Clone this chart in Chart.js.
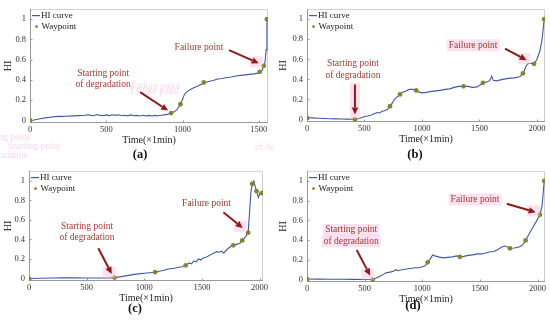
<!DOCTYPE html>
<html>
<head>
<meta charset="utf-8">
<script src="https://cdn.jsdelivr.net/npm/chart.js@4.4.1/dist/chart.umd.min.js"></script>
<style>
  body { margin: 0; background: #fff; }
  #wrap { position: relative; width: 550px; height: 325px; overflow: hidden; background: #fff; }
  canvas { position: absolute; }
</style>
</head>
<body>
<div id="wrap">
  <canvas id="chartA" width="275" height="162" style="left:0;top:0"></canvas>
  <canvas id="chartB" width="275" height="162" style="left:275px;top:0"></canvas>
  <canvas id="chartC" width="275" height="163" style="left:0;top:162px"></canvas>
  <canvas id="chartD" width="275" height="163" style="left:275px;top:162px"></canvas>
</div>
<script>
// ---- data ----
const aTime = [0, 25, 50, 75, 100, 130, 160, 200, 240, 280, 320, 360, 380, 400, 420, 440, 460, 480, 500, 520,
  540, 560, 580, 600, 620, 640, 660, 680, 700, 720, 740, 760, 780, 800, 820, 840, 860, 880, 900, 925,
  945, 965, 986, 1000, 1010, 1025, 1045, 1070, 1100, 1140, 1170, 1200, 1230, 1260, 1290, 1320, 1350,
  1380, 1410, 1440, 1470, 1500, 1506, 1520, 1532, 1540, 1548, 1553];
const aHI = [0, 0.005, 0.012, 0.02, 0.026, 0.032, 0.038, 0.04, 0.042, 0.045, 0.048, 0.052, 0.056, 0.05, 0.047,
  0.058, 0.05, 0.046, 0.055, 0.048, 0.056, 0.05, 0.057, 0.047, 0.052, 0.046, 0.055, 0.047, 0.05, 0.044,
  0.052, 0.045, 0.05, 0.044, 0.05, 0.046, 0.052, 0.055, 0.06, 0.073, 0.085, 0.11, 0.16, 0.21, 0.25, 0.28,
  0.3, 0.32, 0.34, 0.37, 0.385, 0.395, 0.41, 0.415, 0.425, 0.43, 0.44, 0.445, 0.45, 0.455, 0.46, 0.47,
  0.48, 0.49, 0.54, 0.57, 0.7, 1.0];
const aWayTime = [0, 925, 986, 1139, 1506, 1532, 1553];
const aWayHI = [0, 0.073, 0.16, 0.375, 0.48, 0.54, 1.0];

const bTime = [0, 50, 100, 150, 200, 250, 300, 350, 400, 417, 450, 480, 500, 530, 560, 590, 610, 630, 650, 680,
  700, 722, 740, 760, 780, 809, 830, 860, 890, 920, 948, 970, 1000, 1040, 1080, 1120, 1160, 1200, 1240,
  1280, 1320, 1365, 1400, 1440, 1480, 1533, 1570, 1590, 1606, 1620, 1650, 1700, 1750, 1800, 1850, 1881,
  1900, 1920, 1950, 1977, 2000, 2025, 2045, 2063];
const bHI = [0.02, 0.016, 0.013, 0.01, 0.008, 0.006, 0.005, 0.004, 0.003, 0, 0.01, 0.02, 0.03, 0.035, 0.045,
  0.06, 0.07, 0.065, 0.08, 0.09, 0.1, 0.133, 0.16, 0.2, 0.22, 0.25, 0.27, 0.285, 0.3, 0.3, 0.29, 0.275,
  0.265, 0.27, 0.28, 0.285, 0.29, 0.3, 0.305, 0.32, 0.33, 0.33, 0.33, 0.32, 0.325, 0.365, 0.375, 0.39,
  0.43, 0.39, 0.385, 0.4, 0.41, 0.415, 0.425, 0.46, 0.52, 0.555, 0.56, 0.555, 0.6, 0.68, 0.8, 1.0];
const bWayTime = [0, 417, 722, 809, 950, 1362, 1530, 1878, 1975, 2063];
const bWayHI = [0.016, 0, 0.133, 0.25, 0.29, 0.33, 0.365, 0.46, 0.555, 1.0];

const cTime = [0, 100, 200, 300, 400, 500, 600, 700, 742, 800, 850, 900, 950, 1000, 1050, 1094, 1130, 1170,
  1200, 1230, 1260, 1300, 1330, 1360, 1390, 1410, 1430, 1450, 1470, 1490, 1510, 1540, 1570, 1600, 1630,
  1650, 1670, 1690, 1710, 1740, 1772, 1800, 1830, 1850, 1880, 1901, 1912, 1925, 1936, 1950, 1965, 1974,
  1990, 2005, 2020];
const cHI = [0, 0.003, 0.005, 0.008, 0.007, 0.005, 0.006, 0.007, 0.01, 0.02, 0.03, 0.04, 0.048, 0.055, 0.06,
  0.065, 0.075, 0.085, 0.095, 0.1, 0.105, 0.115, 0.12, 0.135, 0.16, 0.15, 0.18, 0.17, 0.2, 0.19, 0.21,
  0.22, 0.24, 0.26, 0.275, 0.27, 0.28, 0.26, 0.29, 0.32, 0.34, 0.35, 0.36, 0.39, 0.43, 0.47, 0.65, 0.88,
  0.97, 1.0, 0.93, 0.895, 0.83, 0.88, 0.875];
const cWayTime = [0, 742, 1094, 1360, 1772, 1850, 1901, 1936, 1974, 2020];
const cWayHI = [0, 0.01, 0.065, 0.135, 0.34, 0.39, 0.47, 0.97, 0.895, 0.875];

const dTime = [0, 100, 200, 300, 400, 500, 570, 600, 630, 660, 690, 720, 750, 770, 790, 820, 850, 880, 910,
  940, 970, 1000, 1025, 1047, 1070, 1090, 1110, 1140, 1180, 1220, 1260, 1300, 1327, 1360, 1400, 1440,
  1480, 1520, 1550, 1580, 1620, 1650, 1690, 1720, 1761, 1800, 1840, 1870, 1897, 1930, 1960, 1990, 2021,
  2040, 2058];
const dHI = [0.005, 0.004, 0.003, 0.003, 0.002, 0.001, 0, 0.015, 0.03, 0.05, 0.07, 0.075, 0.085, 0.1, 0.09,
  0.1, 0.105, 0.11, 0.115, 0.12, 0.12, 0.13, 0.14, 0.175, 0.21, 0.25, 0.24, 0.23, 0.22, 0.225, 0.23, 0.24,
  0.23, 0.235, 0.245, 0.25, 0.26, 0.26, 0.27, 0.28, 0.285, 0.3, 0.33, 0.34, 0.317, 0.32, 0.33, 0.35,
  0.397, 0.47, 0.53, 0.59, 0.657, 0.75, 1.0];
const dWayTime = [0, 570, 1047, 1327, 1761, 1897, 2021, 2058];
const dWayHI = [0.005, 0, 0.175, 0.23, 0.317, 0.397, 0.657, 1.0];

const yTicks = [0, 0.2, 0.4, 0.6, 0.8, 1];
const aXTicks = [0, 500, 1000, 1500];
const bXTicks = [0, 500, 1000, 1500, 2000];
const cXTicks = [0, 500, 1000, 1500, 2000];
const dXTicks = [0, 500, 1000, 1500, 2000];

// ---- styles ----
const SERIF = "'Liberation Serif', 'Times New Roman', serif";
const LINE_COLOR = "#3f5aa6";
const WAY_COLOR = "#85852e";
const NOTE_COLOR = "#a33b32";
const ARROW_COLOR = "#8e1b17";
const PINK = "rgba(250,195,225,0.5)";
const GHOST = "rgba(240,140,205,0.35)";

const panels = [
  {
    id: "chartA", time: aTime, hi: aHI, wayTime: aWayTime, wayHI: aWayHI, xTicks: aXTicks, xMax: 1560,
    area: { left: 30, right: 268, top: 5, bottom: 123 }, letter: "(a)", letterPos: [140, 155],
    notes: [
      { idx: 1, tip: [-3, -2.5], tail: [-31, -21], text: [-68, -40], headBg: false, textBg: false,
        lines: ["Starting point", "of degradation"] },
      { idx: 5, tip: [-5, -2.5], tail: [-34.7, -15.7], text: [-64.7, -18.7], headBg: true, textBg: false,
        lines: ["Failure point"] },
    ],
    ghosts: [
      ["Failure point", 131, 86], ["Failure point", 130, 91],
      ["ing point", -4, 137], ["Starting point", 8, 146], ["radation", -3, 155], ["of de", 255, 147],
    ],
  },
  {
    id: "chartB", time: bTime, hi: bHI, wayTime: bWayTime, wayHI: bWayHI, xTicks: bXTicks, xMax: 2070,
    area: { left: 32, right: 270, top: 5, bottom: 122 }, letter: "(b)", letterPos: [140, 155],
    notes: [
      { idx: 1, tip: [0, -5], tail: [0, -35], text: [-2, -55.5], headBg: true, textBg: false, vertical: true,
        lines: ["Starting point", "of degradation"] },
      { idx: 8, tip: [-7.4, -3.6], tail: [-29.1, -15.2], text: [-61, -18.6], headBg: true, textBg: true,
        lines: ["Failure point"] },
    ],
    ghosts: [],
  },
  {
    id: "chartC", time: cTime, hi: cHI, wayTime: cWayTime, wayHI: cWayHI, xTicks: cXTicks, xMax: 2030,
    area: { left: 29, right: 263, top: 3, bottom: 119 }, letter: "(c)", letterPos: [135, 147],
    notes: [
      { idx: 1, tip: [-2.8, -3.7], tail: [-16.2, -29.4], text: [-27.5, -51.1], headBg: true, textBg: false,
        lines: ["Starting point", "of degradation"] },
      { idx: 6, tip: [-5.4, -4.7], tail: [-24.8, -20.3], text: [-41.6, -28.7], headBg: true, textBg: false,
        lines: ["Failure point"] },
    ],
    ghosts: [],
  },
  {
    id: "chartD", time: dTime, hi: dHI, wayTime: dWayTime, wayHI: dWayHI, xTicks: dXTicks, xMax: 2065,
    area: { left: 32, right: 270, top: 3, bottom: 120 }, letter: "(d)", letterPos: [138, 144],
    notes: [
      { idx: 1, tip: [-2.5, -4], tail: [-16, -29.6], text: [-21.5, -49.6], headBg: true, textBg: true,
        lines: ["Starting point", "of degradation"] },
      { idx: 6, tip: [-4.2, -2.5], tail: [-33.2, -11], text: [-64.9, -15.3], headBg: true, textBg: true,
        lines: ["Failure point"] },
    ],
    ghosts: [],
  },
];

const Y_MIN = -0.025;
const Y_MAX = 1.1;
const X_AXIS_H = 24;

function toPoints(xs, ys) {
  return xs.map((x, i) => ({ x: x, y: ys[i] }));
}

function drawArrow(ctx, x0, y0, x1, y1) {
  const ang = Math.atan2(y1 - y0, x1 - x0);
  const head = 7, half = 3.3;
  const bx = x1 - head * Math.cos(ang), by = y1 - head * Math.sin(ang);
  ctx.strokeStyle = ARROW_COLOR;
  ctx.fillStyle = ARROW_COLOR;
  ctx.lineWidth = 2;
  ctx.beginPath();
  ctx.moveTo(x0, y0);
  ctx.lineTo(bx, by);
  ctx.stroke();
  ctx.beginPath();
  ctx.moveTo(x1, y1);
  ctx.lineTo(bx - half * Math.sin(ang), by + half * Math.cos(ang));
  ctx.lineTo(bx + half * Math.sin(ang), by - half * Math.cos(ang));
  ctx.closePath();
  ctx.fill();
}

// box, inward ticks
const boxPlugin = {
  id: "box",
  beforeDatasetsDraw(chart) {
    const { ctx, chartArea: a, scales } = chart;
    ctx.save();
    ctx.lineWidth = 1;
    ctx.strokeStyle = "#cfcfcf";
    ctx.beginPath();
    ctx.moveTo(a.left, a.top + 0.5);
    ctx.lineTo(a.right - 0.5, a.top + 0.5);
    ctx.lineTo(a.right - 0.5, a.bottom);
    ctx.stroke();
    ctx.strokeStyle = "#9a9a9a";
    ctx.beginPath();
    ctx.moveTo(a.left + 0.5, a.top);
    ctx.lineTo(a.left + 0.5, a.bottom - 0.5);
    ctx.lineTo(a.right, a.bottom - 0.5);
    ctx.stroke();
    scales.x.ticks.forEach(t => {
      const px = Math.round(scales.x.getPixelForValue(t.value)) + 0.5;
      ctx.beginPath();
      ctx.moveTo(px, a.bottom);
      ctx.lineTo(px, a.bottom - 2.5);
      ctx.stroke();
    });
    scales.y.ticks.forEach(t => {
      const py = Math.round(scales.y.getPixelForValue(t.value)) + 0.5;
      ctx.beginPath();
      ctx.moveTo(a.left, py);
      ctx.lineTo(a.left + 2.5, py);
      ctx.stroke();
    });
    ctx.restore();
  },
};

// legend, notes, arrows, panel letter
const notesPlugin = {
  id: "notes",
  afterDraw(chart) {
    const p = chart.options.plugins.notes.panel;
    const { ctx, chartArea: a, scales } = chart;
    ctx.save();

    // ghost marks of the source image
    ctx.font = "9.5px " + SERIF;
    ctx.fillStyle = GHOST;
    ctx.textAlign = "left";
    ctx.textBaseline = "middle";
    p.ghosts.forEach(g => ctx.fillText(g[0], g[1], g[2]));

    // legend
    ctx.strokeStyle = LINE_COLOR;
    ctx.lineWidth = 1.2;
    ctx.beginPath();
    ctx.moveTo(a.left + 2, a.top + 6.5);
    ctx.lineTo(a.left + 10, a.top + 6.5);
    ctx.stroke();
    ctx.fillStyle = WAY_COLOR;
    ctx.beginPath();
    ctx.arc(a.left + 6.5, a.top + 17.5, 1.4, 0, Math.PI * 2);
    ctx.fill();
    ctx.fillStyle = "#1a1a1a";
    ctx.font = "9px " + SERIF;
    ctx.fillText("HI curve", a.left + 11, a.top + 6.8);
    ctx.fillText("Waypoint", a.left + 11.5, a.top + 17.8);

    // annotations
    p.notes.forEach(n => {
      const wx = scales.x.getPixelForValue(p.wayTime[n.idx]);
      const wy = scales.y.getPixelForValue(p.wayHI[n.idx]);
      const tx = wx + n.tip[0], ty = wy + n.tip[1];
      const sx = wx + n.tail[0], sy = wy + n.tail[1];
      const cx = wx + n.text[0], cy = wy + n.text[1];
      ctx.font = "9.5px " + SERIF;
      if (n.textBg) {
        ctx.fillStyle = PINK;
        n.lines.forEach((line, i) => {
          const w = ctx.measureText(line).width + 4;
          ctx.fillRect(cx - w / 2, cy + i * 11.5 - 6, w, 12);
        });
      }
      if (n.headBg) {
        ctx.fillStyle = PINK;
        if (n.vertical) ctx.fillRect(tx - 5, sy - 2, 10, ty - sy + 6);
        else ctx.fillRect(tx - 9, ty - 7, 13, 11);
      }
      ctx.fillStyle = NOTE_COLOR;
      ctx.textAlign = "center";
      n.lines.forEach((line, i) => ctx.fillText(line, cx, cy + i * 11.5));
      drawArrow(ctx, sx, sy, tx, ty);
    });

    // panel letter
    ctx.fillStyle = "#111";
    ctx.font = "bold 12.5px " + SERIF;
    ctx.textAlign = "center";
    ctx.fillText(p.letter, p.letterPos[0], p.letterPos[1]);
    ctx.restore();
  },
};

function makeChart(p) {
  const canvas = document.getElementById(p.id);
  const W = canvas.width, H = canvas.height;
  return new Chart(canvas, {
    type: "line",
    data: {
      datasets: [
        {
          label: "HI curve",
          data: toPoints(p.time, p.hi),
          borderColor: LINE_COLOR,
          borderWidth: 1.1,
          pointRadius: 0,
          tension: 0,
          order: 2,
        },
        {
          label: "Waypoint",
          data: toPoints(p.wayTime, p.wayHI),
          showLine: false,
          pointRadius: 2.4,
          pointBackgroundColor: WAY_COLOR,
          pointBorderColor: WAY_COLOR,
          pointBorderWidth: 0,
          order: 1,
        },
      ],
    },
    options: {
      responsive: false,
      animation: false,
      events: [],
      layout: {
        padding: {
          left: 0,
          top: p.area.top,
          right: W - p.area.right,
          bottom: H - p.area.bottom - X_AXIS_H,
        },
      },
      scales: {
        x: {
          type: "linear",
          min: 0,
          max: p.xMax,
          afterBuildTicks: s => { s.ticks = p.xTicks.map(v => ({ value: v })); },
          afterFit: s => { s.height = X_AXIS_H; },
          grid: { display: false, drawTicks: false },
          border: { display: false },
          ticks: {
            padding: 2,
            maxRotation: 0,
            autoSkip: false,
            color: "#333",
            font: { family: SERIF, size: 8.5 },
            callback: v => String(v),
          },
          title: {
            display: true,
            text: "Time(×1min)",
            color: "#1a1a1a",
            font: { family: SERIF, size: 10 },
            padding: { top: 0, bottom: 1 },
          },
        },
        y: {
          type: "linear",
          min: Y_MIN,
          max: Y_MAX,
          afterBuildTicks: s => { s.ticks = yTicks.map(v => ({ value: v })); },
          afterFit: s => { s.width = p.area.left; },
          grid: { display: false, drawTicks: false },
          border: { display: false },
          ticks: {
            padding: 4,
            autoSkip: false,
            color: "#333",
            font: { family: SERIF, size: 8.5 },
            callback: v => String(v),
          },
          title: {
            display: true,
            text: "HI",
            color: "#1a1a1a",
            font: { family: SERIF, size: 10 },
            padding: { top: 2, bottom: 0 },
          },
        },
      },
      plugins: {
        legend: { display: false },
        tooltip: { enabled: false },
        notes: { panel: p },
      },
    },
    plugins: [boxPlugin, notesPlugin],
  });
}

panels.forEach(makeChart);
</script>
</body>
</html>
